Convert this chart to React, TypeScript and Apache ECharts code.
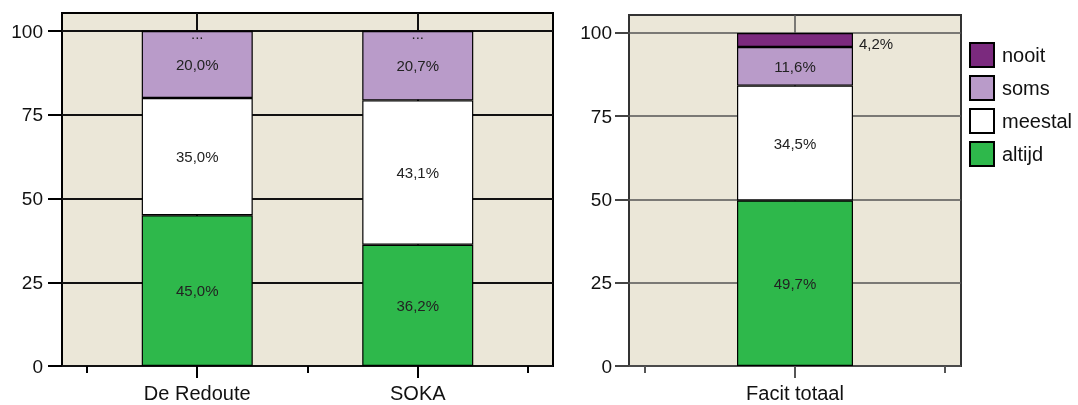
import { useEffect, useRef } from 'react';
import * as echarts from 'echarts';

const leftCategories = ['De Redoute', 'SOKA'];
const rightCategories = ['Facit totaal'];
const legendOrder = ['nooit', 'soms', 'meestal', 'altijd'];

const leftAltijd = [45.0, 36.2];
const leftMeestal = [35.0, 43.1];
const leftSoms = [20.0, 20.7];
const leftNooit = [0, 0];

const rightAltijd = [49.7];
const rightMeestal = [34.5];
const rightSoms = [11.6];
const rightNooit = [4.2];

const yTicks = [0, 25, 50, 75, 100];
const Y_MAX = 105.4;

const COLORS: Record<string, string> = {
  altijd: '#2eb84b',
  meestal: '#ffffff',
  soms: '#b99bc9',
  nooit: '#7b2a7e',
};
const FONT = '"Liberation Sans", Arial, Helvetica, sans-serif';
const BEIGE = '#ebe7d8';

const fmt = (v: number) => (v === 0 ? '...' : v.toFixed(1).replace('.', ',') + '%');

// bars live on the inner grids (2 = left, 3 = right) with category axes
function bars(name: string, values: number[], inner: number, barWidth: number, label: any = {}) {
  return {
    type: 'bar',
    name,
    stack: 'g' + inner,
    xAxisIndex: inner + 2,
    yAxisIndex: inner,
    barWidth,
    data: values,
    itemStyle: { color: COLORS[name], borderColor: '#000', borderWidth: 1.2 },
    label: {
      show: true,
      position: 'inside',
      fontSize: 15,
      fontFamily: FONT,
      color: '#222',
      formatter: (p: any) => fmt(p.value),
      ...label,
    },
  };
}

function outerXAxes(grid: number, cats: string[], min: number, max: number, gridColor: string, gridWidth: number, tickColor: string) {
  const centers = cats.map((_, i) => i);
  const edges = [-0.5, ...cats.map((_, i) => i + 0.5)];
  return [
    {
      type: 'value',
      gridIndex: grid,
      position: 'bottom',
      min,
      max,
      axisLine: { show: false, onZero: false },
      axisTick: { show: true, customValues: centers, length: 12, lineStyle: { color: tickColor, width: 2 } },
      axisLabel: {
        show: true,
        customValues: centers,
        formatter: (v: number) => cats[Math.round(v)] ?? '',
        fontSize: 20,
        fontFamily: FONT,
        color: '#111',
        margin: 17,
      },
      splitLine: { show: true, lineStyle: { color: gridColor, width: gridWidth } },
    },
    {
      type: 'value',
      gridIndex: grid,
      position: 'bottom',
      min,
      max,
      axisLine: { show: false, onZero: false },
      axisTick: { show: true, customValues: edges, length: 7, lineStyle: { color: tickColor, width: 2 } },
      axisLabel: { show: false },
      splitLine: { show: false },
    },
  ];
}

function outerYAxis(grid: number, gridColor: string, gridWidth: number, tickColor: string, margin: number) {
  return {
    type: 'value',
    gridIndex: grid,
    position: 'left',
    min: 0,
    max: Y_MAX,
    axisLine: { show: false, onZero: false },
    axisTick: { show: true, customValues: yTicks, length: 14, lineStyle: { color: tickColor, width: 2 } },
    axisLabel: { customValues: yTicks, fontSize: 19, fontFamily: FONT, color: '#111', margin },
    splitLine: { show: true, lineStyle: { color: gridColor, width: gridWidth } },
  };
}

export default function App() {
  const ref = useRef<HTMLDivElement>(null);
  useEffect(() => {
    if (!ref.current) return;
    const chart = echarts.init(ref.current, undefined, { renderer: 'svg' });
    chart.setOption({
      animation: false,
      legend: {
        orient: 'vertical',
        left: 969,
        top: 42,
        padding: 0,
        itemWidth: 24,
        itemHeight: 24,
        itemGap: 7,
        icon: 'rect',
        selectedMode: false,
        data: legendOrder,
        textStyle: { fontSize: 20, fontFamily: FONT, color: '#111', padding: [0, 0, 0, 3] },
      },
      grid: [
        { left: 62, right: 1078 - 553, top: 13, bottom: 39, show: true, backgroundColor: BEIGE, borderColor: '#000', borderWidth: 2 },
        { left: 629, right: 1078 - 961, top: 15, bottom: 39, show: true, backgroundColor: BEIGE, borderColor: '#333', borderWidth: 2 },
        { left: 87, right: 1078 - 528, top: 13, bottom: 39 },
        { left: 645, right: 1078 - 945, top: 15, bottom: 39 },
      ],
      xAxis: [
        ...outerXAxes(0, leftCategories, -0.613, 1.613, '#111', 2, '#000'),
        ...outerXAxes(1, rightCategories, -0.553, 0.553, '#555', 1.5, '#555'),
        { type: 'category', gridIndex: 2, data: leftCategories, show: false },
        { type: 'category', gridIndex: 3, data: rightCategories, show: false },
      ],
      yAxis: [
        outerYAxis(0, '#111', 2, '#000', 19),
        outerYAxis(1, '#555', 1.5, '#444', 17),
        { type: 'value', gridIndex: 2, min: 0, max: Y_MAX, show: false, splitLine: { show: false } },
        { type: 'value', gridIndex: 3, min: 0, max: Y_MAX, show: false, splitLine: { show: false } },
      ],
      series: [
        bars('altijd', leftAltijd, 2, 111),
        bars('meestal', leftMeestal, 2, 111),
        bars('soms', leftSoms, 2, 111),
        bars('nooit', leftNooit, 2, 111, { offset: [0, 2] }),
        bars('altijd', rightAltijd, 3, 116),
        bars('meestal', rightMeestal, 3, 116),
        bars('soms', rightSoms, 3, 116),
        bars('nooit', rightNooit, 3, 116, { position: 'right', distance: 6, offset: [0, 4] }),
      ],
    });
    return () => chart.dispose();
  }, []);
  return <div ref={ref} style={{ position: 'fixed', left: 0, top: 0, width: 1078, height: 405 }} />;
}
